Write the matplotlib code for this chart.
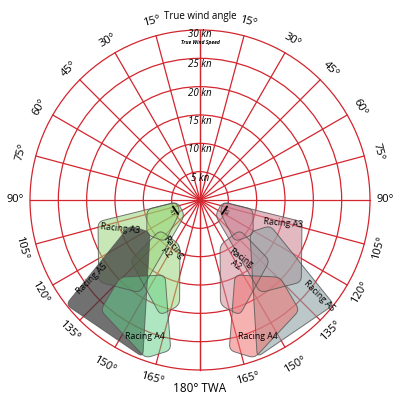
import numpy as np
import matplotlib
matplotlib.use("Agg")
from matplotlib import pyplot as plt
from matplotlib.path import Path
from matplotlib.patches import PathPatch, Circle

plt.rcParams['font.family'] = ['Open Sans', 'DejaVu Sans']

# wind speed rings (kn) and true wind angle spokes (deg)
speeds = [5, 10, 15, 20, 25, 30]
angles = list(range(0, 181, 15))

# sail zones: true wind angle (deg) / true wind speed (kn) of the corners
a1_twa = [95, 100, 123, 140, 121]
a1_tws = [4.2, 9.5, 11.2, 9.6, 4.1]
a3_twa = [95, 102, 129, 147, 135]
a3_tws = [4.0, 18.4, 23.0, 19.5, 3.8]
a2_twa = [127, 156, 169, 161, 131]
a2_tws = [8.8, 8.7, 18.9, 21.5, 16.3]
a4_twa = [134, 155, 169, 161, 138]
a4_tws = [19.6, 14.6, 27.0, 29.5, 26.2]
a5_twa = [110, 123, 160, 128]
a5_tws = [13.2, 10.5, 29.5, 30.0]

RED = '#d3252e'
L = 30 * 200 / 170.0


def xy(twa, tws, side):
    t = np.radians(np.asarray(twa, float))
    r = np.asarray(tws, float)
    return side * r * np.sin(t), r * np.cos(t)


def rounded(x, y, rad=1.0):
    # closed path through the corners, each corner rounded off a little
    pts = np.column_stack([x, y])
    n = len(pts)
    verts, codes = [], []
    for i in range(n):
        p, v, nx = pts[i - 1], pts[i], pts[(i + 1) % n]
        d1 = p - v
        d2 = nx - v
        a = v + d1 * min(rad / np.hypot(*d1), 0.45)
        b = v + d2 * min(rad / np.hypot(*d2), 0.45)
        verts.append(a)
        codes.append(Path.MOVETO if i == 0 else Path.LINETO)
        verts += [v, b]
        codes += [Path.CURVE3, Path.CURVE3]
    verts.append(verts[0])
    codes.append(Path.CLOSEPOLY)
    return Path(verts, codes)


fig = plt.figure(figsize=(4, 4), dpi=100)
ax = fig.add_axes([0, 0, 1, 1])
ax.set_xlim(-L, L)
ax.set_ylim(-L, L)
ax.set_aspect('equal')
ax.axis('off')

# grid
for s in speeds:
    ax.add_patch(Circle((0, 0), s, fill=False, ec=RED, lw=0.9, zorder=1))
for a in angles:
    for side in (1, -1):
        gx, gy = xy([0, a], [0, 30], side)
        ax.plot(gx, gy, color=RED, lw=0.9, zorder=1)

# sail zones: left side green/grey, right side red/grey
zones = [
    (a3_twa, a3_tws, '#9ad67a', 0.55, '#d08a98', 0.6),
    (a1_twa, a1_tws, '#8fd46c', 0.5, '#c7788a', 0.5),
    (a2_twa, a2_tws, '#9ad67a', 0.55, '#d08a98', 0.55),
    (a5_twa, a5_tws, '#3a3a3a', 0.72, '#8ea3a4', 0.6),
    (a4_twa, a4_tws, '#5fcf87', 0.5, '#f07272', 0.55),
]
for twa, tws, cl, al, cr, ar in zones:
    for side, c, alpha in ((-1, cl, al), (1, cr, ar)):
        zx, zy = xy(twa, tws, side)
        ax.add_patch(PathPatch(rounded(zx, zy), fc=c, alpha=alpha, ec='none', zorder=2))
        ax.add_patch(PathPatch(rounded(zx, zy), fc='none', ec='#555555', lw=0.7, alpha=0.8, zorder=3))

# zone labels: (text, twa, tws, rotation) per side
left_labels = [('Racing A3', 110, 15.0, -6), ('Racing\nA2', 149, 10.3, -50),
               ('Racing A5', 126, 23.5, 45), ('Racing A4', 158, 26.0, 0)]
right_labels = [('Racing A3', 106, 15.2, -5), ('Racing\nA2', 148, 12.8, -35),
                ('Racing A5', 129, 27.0, -45), ('Racing A4', 157, 26.2, 0)]
for side, labs in ((-1, left_labels), (1, right_labels)):
    for txt, a, s, rot in labs:
        tx, ty = xy([a], [s], side)
        ax.text(tx[0], ty[0], txt, fontsize=6.3, ha='center', va='center', rotation=rot,
                linespacing=0.9, zorder=5)
    tx, ty = xy([113], [5.4], side)
    ax.text(tx[0], ty[0], 'A1', fontsize=3.5, ha='center', va='center',
            rotation=70 * side, zorder=5)
    mx, my = xy([104, 122], [4.9, 4.6], side)
    ax.plot(mx, my, color='black', lw=1.3, zorder=5)

# speed labels
for s in speeds:
    off = 0.75 if s == 30 else 1.15
    ax.text(0, s - off, '%d kn' % s, fontsize=7, style='italic', ha='center', va='center', zorder=6)
ax.text(0, 27.75, 'True Wind Speed', fontsize=3.6, style='italic', weight='bold',
        ha='center', va='center', zorder=6)

# angle labels
for a in angles[1:-1]:
    for side in (1, -1):
        rr = 32.6 if a != 150 else 33.5
        tx, ty = xy([a], [rr], side)
        if a < 90:
            rot = -side * a
        elif a == 90:
            rot = 0
        else:
            rot = side * (180 - a)
        ax.text(tx[0], ty[0], '%d°' % a, fontsize=8, ha='center', va='center', rotation=rot)
ax.text(0, 32.3, 'True wind angle', fontsize=7, ha='center', va='center')
ax.text(0, -33.3, '180° TWA', fontsize=8.5, ha='center', va='center')

fig.savefig('out.png', dpi=100)
